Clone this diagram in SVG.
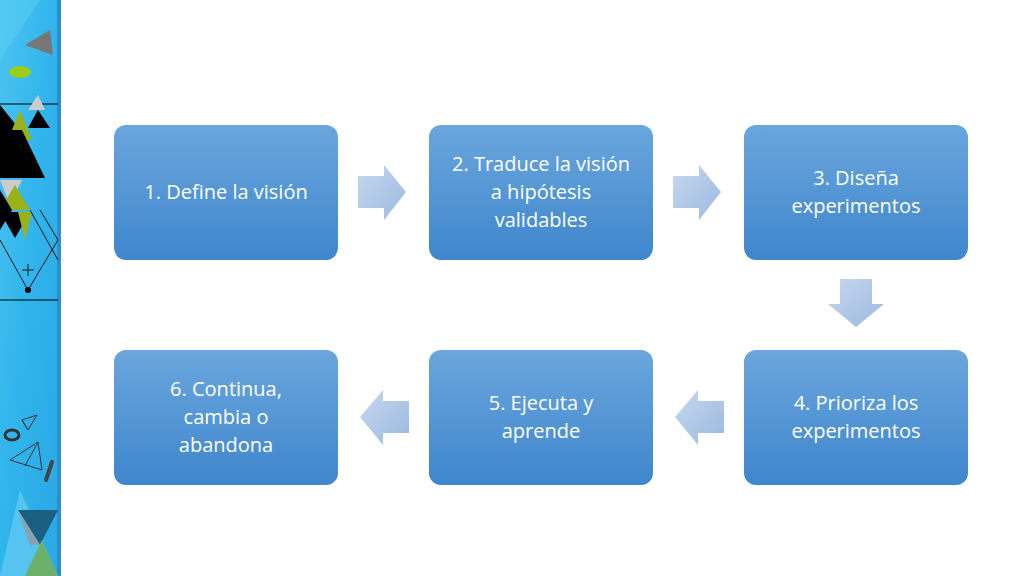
<svg xmlns="http://www.w3.org/2000/svg" width="1024" height="576" viewBox="0 0 1024 576">
<defs>
<linearGradient id="bx" x1="0" y1="0" x2="0" y2="1"><stop offset="0" stop-color="#6aa6dd"/><stop offset="1" stop-color="#3f86cc"/></linearGradient>
<linearGradient id="ar" x1="0" y1="0" x2="1" y2="1"><stop offset="0" stop-color="#c7d8ee"/><stop offset="1" stop-color="#9bb9e0"/></linearGradient>
<linearGradient id="st" x1="0" y1="0" x2="1" y2="1"><stop offset="0" stop-color="#4cc4f0"/><stop offset="0.5" stop-color="#30b4ec"/><stop offset="1" stop-color="#2aa8e4"/></linearGradient>
<style>
.box{fill:url(#bx)}
.t{font-family:"Open Sans","Liberation Sans",sans-serif;font-size:20px;fill:#fff;text-anchor:middle}
.arr{fill:url(#ar)}
</style>
</defs>
<rect width="1024" height="576" fill="#fff"/>
<g id="strip">
<rect x="0" y="0" width="58" height="576" fill="url(#st)"/>
<rect x="57" y="0" width="4" height="576" fill="#2a8fd0"/>
<polygon points="0,0 40,0 0,60" fill="#5ad0f5" opacity="0.5"/>
<polygon points="25,45 50,30 53,55" fill="#777"/>
<ellipse cx="20" cy="72" rx="11" ry="6" fill="#9ccc1c"/>
<line x1="0" y1="104" x2="58" y2="104" stroke="#000"/>
<polygon points="0,105 20,130 0,150" fill="#000"/>
<polygon points="38,95 28,110 45,110" fill="#ccc"/>
<polygon points="38,110 28,128 50,128" fill="#000"/>
<polygon points="20,110 8,140 32,140" fill="#9ab21a"/>
<polygon points="0,130 0,178 45,178 22,130" fill="#000"/>
<polygon points="0,180 22,180 10,205" fill="#ccc"/>
<polygon points="0,210 15,185 30,210" fill="#9ab21a"/>
<polygon points="0,190 0,230 12,210" fill="#000"/>
<polygon points="0,212 30,212 15,238" fill="#000"/>
<polygon points="18,212 32,212 25,240" fill="#9ab21a"/>
<path d="M0,240 L28,290 L58,240 M30,210 L58,260 M40,210 L58,240" stroke="#111" fill="none"/>
<circle cx="28" cy="290" r="3" fill="#000"/>
<path d="M22,270 h12 M28,264 v12" stroke="#222"/>
<line x1="0" y1="300" x2="58" y2="300" stroke="#000"/>
<ellipse cx="12" cy="435" rx="7" ry="5" fill="none" stroke="#333" stroke-width="3"/>
<path d="M22,420 L37,415 L28,430 Z M28,430 L22,420" stroke="#333" fill="none"/>
<path d="M10,460 L38,442 L42,470 Z M38,442 L25,466" stroke="#333" fill="none"/>
<line x1="46" y1="480" x2="52" y2="462" stroke="#444" stroke-width="4" stroke-linecap="round"/>
<polygon points="0,576 20,490 58,576" fill="#6fd2f4" opacity="0.6"/>
<polygon points="18,510 58,510 40,545" fill="#1b5f80"/>
<polygon points="18,510 40,545 30,545" fill="#8aa0b0"/>
<polygon points="25,576 42,540 58,576" fill="#6cb06c"/>
</g>
<g id="n1"><rect class="box" x="114" y="125" width="224" height="135" rx="12"/><text class="t" x="226" y="199">1. Define la visión</text></g>
<g id="n2"><rect class="box" x="429" y="125" width="224" height="135" rx="12"/><text class="t" x="541" y="171">2. Traduce la visión</text><text class="t" x="541" y="199">a hipótesis</text><text class="t" x="541" y="227">validables</text></g>
<g id="n3"><rect class="box" x="744" y="125" width="224" height="135" rx="12"/><text class="t" x="856" y="185">3. Diseña</text><text class="t" x="856" y="213">experimentos</text></g>
<g id="n4"><rect class="box" x="744" y="350" width="224" height="135" rx="12"/><text class="t" x="856" y="410">4. Prioriza los</text><text class="t" x="856" y="438">experimentos</text></g>
<g id="n5"><rect class="box" x="429" y="350" width="224" height="135" rx="12"/><text class="t" x="541" y="410">5. Ejecuta y</text><text class="t" x="541" y="438">aprende</text></g>
<g id="n6"><rect class="box" x="114" y="350" width="224" height="135" rx="12"/><text class="t" x="226" y="396">6. Continua,</text><text class="t" x="226" y="424">cambia o</text><text class="t" x="226" y="452">abandona</text></g>
<g id="connectors">
<polygon class="arr" points="358,176 384,176 384,165 406,192 384,220 384,208 358,208"/>
<polygon class="arr" points="673,176 699,176 699,165 721,192 699,220 699,208 673,208"/>
<polygon class="arr" points="840,279 872,279 872,304 884,304 856,327 828,304 840,304"/>
<polygon class="arr" points="409,401 383,401 383,390 360,417 383,445 383,433 409,433"/>
<polygon class="arr" points="724,401 698,401 698,390 675,417 698,445 698,433 724,433"/>
</g>
</svg>
